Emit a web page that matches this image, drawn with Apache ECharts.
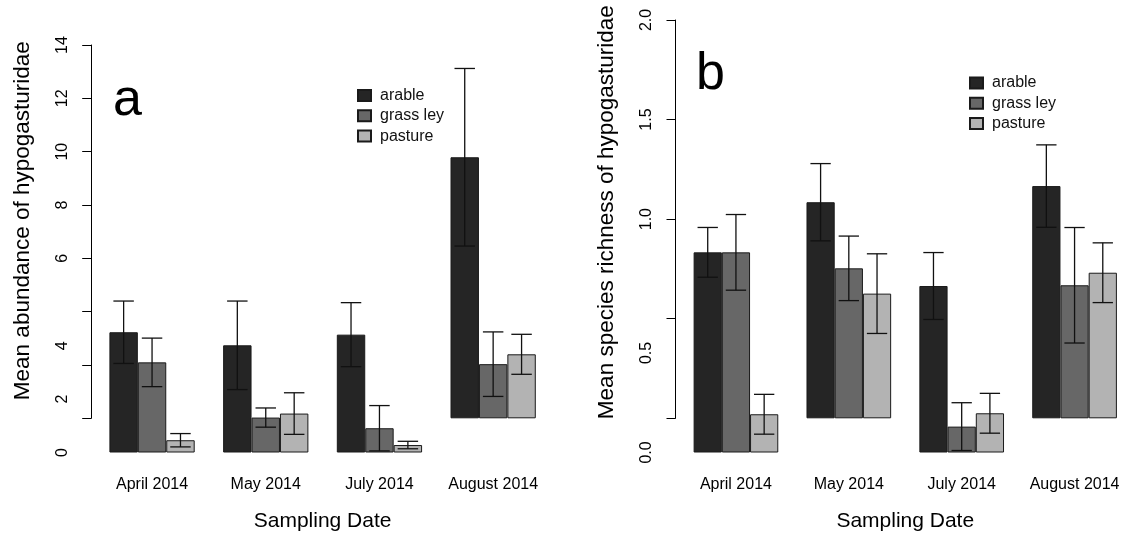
<!DOCTYPE html>
<html>
<head>
<meta charset="utf-8">
<script src="https://cdn.jsdelivr.net/npm/echarts@6/dist/echarts.min.js"></script>
<style>html,body{margin:0;padding:0;background:#fff}#c{width:1131px;height:540px}</style>
</head>
<body>
<div id="c"></div>
<script>
// ---- data ----
const categories = ['April 2014', 'May 2014', 'July 2014', 'August 2014'];
const landUses = ['arable', 'grass ley', 'pasture'];

// panel a: mean abundance of Hypogasturidae (± SE)
const abundArable = [4.51, 4.02, 4.42, 9.79];
const abundGrass = [3.38, 1.31, 0.91, 2.03];
const abundPasture = [0.46, 1.46, 0.28, 2.40];
const abundArableSE = [1.17, 1.66, 1.20, 3.33];
const abundGrassSE = [0.91, 0.36, 0.85, 1.21];
const abundPastureSE = [0.25, 0.78, 0.14, 0.75];
const abundTicks = [0, 2, 4, 6, 8, 10, 12, 14];

// panel b: mean species richness of Hypogasturidae (± SE)
const richArable = [1.005, 1.085, 0.836, 1.166];
const richGrass = [1.005, 0.753, 0.13, 0.668];
const richPasture = [0.192, 0.626, 0.197, 0.731];
const richArableSE = [0.125, 0.194, 0.168, 0.207];
const richGrassSE = [0.19, 0.162, 0.12, 0.29];
const richPastureSE = [0.10, 0.20, 0.10, 0.15];
const richTicks = [0.0, 0.5, 1.0, 1.5, 2.0];

// months whose bars (and lower tick labels) sit on the lower baseline in the reference
const abundLowered = [true, true, true, false];
const richLowered = [true, false, true, false];

// ---- styling ----
const FONT = 'Liberation Sans, Arial, Helvetica, sans-serif';
const colors = ['#252525', '#676767', '#b3b3b3'];

const panels = [
  {
    means: [abundArable, abundGrass, abundPasture],
    ses: [abundArableSE, abundGrassSE, abundPastureSE],
    lowered: abundLowered, ticks: abundTicks,
    min: 0, max: 14, interval: 2, split: 5, dec: 0,
    left: 95.2, topT: 45, height: 373.3, shift: 34.2,
    yName: 'Mean abundance of hypogasturidae', namePad: 22
  },
  {
    means: [richArable, richGrass, richPasture],
    ses: [richArableSE, richGrassSE, richPastureSE],
    lowered: richLowered, ticks: richTicks,
    min: 0, max: 2, interval: 0.5, split: 0.75, dec: 1,
    left: 679.5, topT: 20, height: 398.3, shift: 34.2,
    yName: 'Mean species richness of hypogasturidae', namePad: 14
  }
];

const grid = [], xAxis = [], yAxis = [], series = [];

panels.forEach((p, pi) => {
  ['T', 'L'].forEach((frame, fi) => {
    const gi = pi * 2 + fi;
    const isL = frame === 'L';
    grid.push({ left: p.left, top: p.topT + (isL ? p.shift : 0), width: 454.8, height: p.height });
    xAxis.push({
      type: 'category', gridIndex: gi, data: categories,
      axisLine: { show: false }, axisTick: { show: false },
      axisLabel: { show: isL, interval: 0, hideOverlap: false, fontSize: 16, color: '#000', fontFamily: FONT, margin: 24 },
      name: isL ? 'Sampling Date' : '', nameLocation: 'middle', nameGap: 58,
      nameTextStyle: { fontSize: 21, color: '#000', fontFamily: FONT }
    });
    yAxis.push({
      type: 'value', gridIndex: gi, min: p.min, max: p.max, interval: p.interval, offset: 4,
      splitLine: { show: false },
      axisLine: { show: !isL, lineStyle: { color: '#000', width: 1 } },
      axisTick: { show: !isL, length: 9, lineStyle: { color: '#000', width: 1 } },
      axisLabel: {
        rotate: 90, fontSize: 16, color: '#000', fontFamily: FONT, margin: 21,
        formatter: v => {
          const keep = isL ? v < p.split : v > p.split;
          return keep ? v.toFixed(p.dec) : '';
        }
      },
      name: isL ? '' : p.yName, nameLocation: 'middle', nameRotate: 90, nameGap: 57,
      nameTextStyle: { fontSize: 22.5, color: '#000', fontFamily: FONT, padding: [0, 0, 0, p.namePad] }
    });
    p.means.forEach((vals, k) => {
      series.push({
        type: 'bar', name: landUses[k], xAxisIndex: gi, yAxisIndex: gi,
        barWidth: '25%', barGap: '0%',
        itemStyle: { color: colors[k], borderColor: '#1a1a1a', borderWidth: 1 },
        data: vals.map((v, i) => (p.lowered[i] === isL ? v : '-')),
        z: 2
      });
    });
    p.means.forEach((vals, k) => {
      const errData = [];
      vals.forEach((v, i) => {
        if (p.lowered[i] === isL) errData.push([i, Math.max(0, v - p.ses[k][i]), v + p.ses[k][i]]);
      });
      series.push({
        type: 'custom', name: 'se-' + gi + '-' + k, xAxisIndex: gi, yAxisIndex: gi, z: 5,
        encode: { x: 0, y: [1, 2] },
        data: errData,
        renderItem: (params, api) => {
          const band = api.size([1, 0])[0];
          const bw = band / 4;
          const x = api.coord([api.value(0), 0])[0] + (k - 1) * bw;
          const yLo = api.coord([api.value(0), api.value(1)])[1];
          const yHi = api.coord([api.value(0), api.value(2)])[1];
          const hw = bw * 0.36;
          const st = { stroke: '#111', lineWidth: 1.3 };
          return {
            type: 'group', children: [
              { type: 'line', shape: { x1: x, y1: yLo, x2: x, y2: yHi }, style: st },
              { type: 'line', shape: { x1: x - hw, y1: yLo, x2: x + hw, y2: yLo }, style: st },
              { type: 'line', shape: { x1: x - hw, y1: yHi, x2: x + hw, y2: yHi }, style: st }
            ]
          };
        }
      });
    });
  });
});

const legendCommon = {
  orient: 'vertical', data: landUses, icon: 'rect', itemWidth: 13, itemHeight: 11, itemGap: 0.3,
  selectedMode: false,
  textStyle: { fontSize: 16, color: '#111', fontFamily: FONT, lineHeight: 20, padding: [0, 0, 0, 4] }
};

const option = {
  animation: false,
  backgroundColor: '#fff',
  title: [
    { text: 'a', left: 108, top: 70, textStyle: { fontSize: 52, fontWeight: 'normal', color: '#000', fontFamily: FONT } },
    { text: 'b', left: 691, top: 44, textStyle: { fontSize: 52, fontWeight: 'normal', color: '#000', fontFamily: FONT } }
  ],
  legend: [
    Object.assign({ left: 352, top: 80.5 }, legendCommon),
    Object.assign({ left: 964, top: 68 }, legendCommon)
  ],
  grid, xAxis, yAxis, series
};

const chart = echarts.init(document.getElementById('c'), null, { renderer: 'canvas' });
chart.setOption(option);
</script>
</body>
</html>
